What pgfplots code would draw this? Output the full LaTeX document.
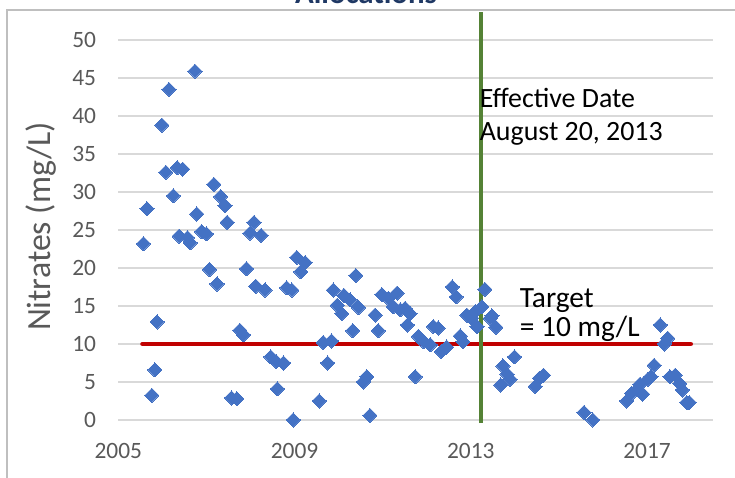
\documentclass[border=0pt]{standalone}
\usepackage{pgfplots}
\pgfplotsset{compat=1.18}
\usepackage{fontspec}
\setmainfont{Carlito}
\definecolor{ptblue}{HTML}{4472C4}
\definecolor{tgtred}{HTML}{C00000}
\definecolor{effgreen}{HTML}{548235}
\definecolor{gridgray}{HTML}{D9D9D9}
\definecolor{labgray}{HTML}{595959}
\definecolor{titleblue}{HTML}{1F3864}
\definecolor{bordergray}{HTML}{BFBFBF}
\begin{document}
\begin{tikzpicture}[x=1bp,y=1bp]
\begin{axis}[
  at={(118.3bp,58bp)}, anchor=south west,
  scale only axis, width=594.4bp, height=380bp,
  xmin=2005, xmax=2018.49, ymin=0, ymax=50,
  xtick={2005,2009,2013,2017}, ytick={0,5,...,50},
  ymajorgrids, major grid style={gridgray, line width=1.5bp},
  axis line style={draw=none}, major tick length=0pt,
  tick label style={font=\fontsize{23.5}{27}\selectfont, text=labgray, inner sep=0pt},
  xticklabel style={anchor=base, yshift=-39bp},
  yticklabel style={anchor=east, xshift=-22bp},
  /pgf/number format/assume math mode=true,
  /pgf/number format/1000 sep={},
  ylabel={Nitrates (mg/L)},
  ylabel style={at={(axis description cs:-0.1137,0.509)}, anchor=base, font=\fontsize{34}{40}\selectfont, text=labgray, inner sep=0pt},
  clip=false,
]
\addplot[tgtred, line width=4.7bp, line cap=round] coordinates {(2005.55,10) (2017.99,10)};
\addplot[only marks, mark=square*, mark size=5bp, mark options={rotate=45, fill=ptblue, draw=ptblue, line width=0pt}] coordinates {
(2005.57,23.2) (2005.65,27.8) (2005.76,3.25) (2005.83,6.6) (2005.88,12.9)
(2005.99,38.8) (2006.08,32.6) (2006.15,43.5) (2006.25,29.5) (2006.34,33.2)
(2006.38,24.2) (2006.46,33.0) (2006.57,24.0) (2006.63,23.3) (2006.74,45.9)
(2006.78,27.1) (2006.89,24.8) (2007.00,24.5) (2007.07,19.8) (2007.17,31.0)
(2007.24,17.9) (2007.32,29.4) (2007.42,28.2) (2007.47,26.0) (2007.57,2.9)
(2007.69,2.8) (2007.76,11.8) (2007.84,11.2) (2007.91,19.9) (2007.99,24.6)
(2008.08,26.0) (2008.12,17.6) (2008.24,24.3) (2008.33,17.1) (2008.46,8.3)
(2008.58,7.7) (2008.61,4.1) (2008.75,7.5) (2008.82,17.4) (2008.94,17.1)
(2008.97,0.0) (2009.05,21.4) (2009.14,19.5) (2009.24,20.7) (2009.56,2.5)
(2009.65,10.2) (2009.75,7.5) (2009.84,10.4) (2009.88,17.1) (2009.97,15.1)
(2010.07,14.0) (2010.12,16.4) (2010.26,15.8) (2010.32,11.75) (2010.39,19.0)
(2010.45,14.8) (2010.56,5.0) (2010.64,5.7) (2010.71,0.6) (2010.83,13.8)
(2010.90,11.75) (2010.98,16.5) (2011.13,16.0) (2011.24,14.9) (2011.33,16.7)
(2011.40,14.5) (2011.51,14.7) (2011.56,12.5) (2011.62,14.0) (2011.74,5.7)
(2011.81,11.0) (2011.93,10.3) (2012.08,9.9) (2012.15,12.3) (2012.26,12.1)
(2012.33,9.0) (2012.45,9.6) (2012.58,17.5) (2012.67,16.2) (2012.76,11.05)
(2012.82,10.3) (2012.91,13.8) (2013.02,13.4) (2013.10,14.25) (2013.14,12.3)
(2013.25,14.9) (2013.32,17.2) (2013.44,13.4) (2013.48,13.7) (2013.57,12.2)
(2013.68,4.6) (2013.73,7.1) (2013.82,6.05) (2013.89,5.35) (2013.99,8.3)
(2014.46,4.4) (2014.56,5.5) (2014.65,5.9) (2015.57,1.0) (2015.77,0.0)
(2016.54,2.5) (2016.65,3.5) (2016.77,4.0) (2016.84,4.7) (2016.90,3.4)
(2017.02,5.35) (2017.09,5.7) (2017.16,7.2) (2017.30,12.5) (2017.39,10.0)
(2017.47,10.75) (2017.52,5.7) (2017.64,5.9) (2017.74,4.8) (2017.80,3.95)
(2017.90,2.3) (2017.96,2.3)
};
\addplot[effgreen, line width=3.3bp] coordinates {(2013.23,-0.4) (2013.23,53.7)};
\node[anchor=base west, inner sep=0pt, font=\fontsize{28}{33}\selectfont] at (axis cs:2013.20,41.14) {Effective Date};
\node[anchor=base west, inner sep=0pt, font=\fontsize{28}{33}\selectfont] at (axis cs:2013.20,36.75) {August 20, 2013};
\node[anchor=base west, inner sep=0pt, font=\fontsize{29.5}{35}\selectfont] at (axis cs:2014.11,14.83) {Target};
\node[anchor=base west, inner sep=0pt, font=\fontsize{29.5}{35}\selectfont] at (axis cs:2014.11,11.05) {= 10 mg/L};
\end{axis}
\draw[bordergray, line width=1.5] (7,-5) -- (7,468) -- (740,468);
\node[anchor=base, inner sep=0pt, text=titleblue, font=\bfseries\fontsize{31}{37}\selectfont] at (366,474) {Allocations};
\pgfresetboundingbox
\useasboundingbox (0,0) rectangle (735,478);
\end{tikzpicture}
\end{document}
